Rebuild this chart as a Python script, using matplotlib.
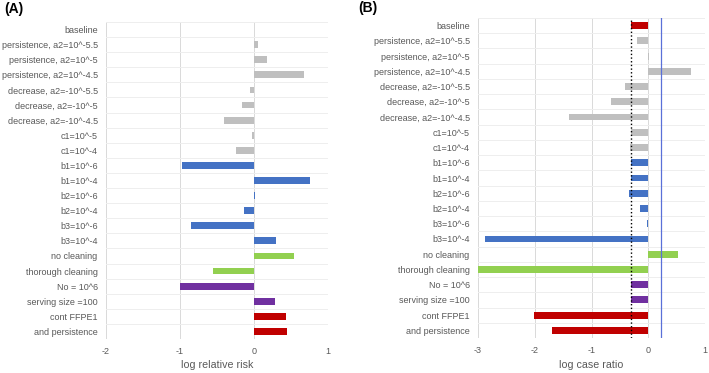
import matplotlib.pyplot as plt
from matplotlib import font_manager

names = {f.name for f in font_manager.fontManager.ttflist}
label_font = 'Liberation Sans Narrow' if 'Liberation Sans Narrow' in names else 'Liberation Sans'
label_size = 7.9 if label_font == 'Liberation Sans Narrow' else 6.5
plt.rcParams['font.family'] = ['Liberation Sans', 'DejaVu Sans']

categories = ['baseline', 'persistence, a2=10^-5.5', 'persistence, a2=10^-5',
              'persistence, a2=10^-4.5', 'decrease, a2=-10^-5.5', 'decrease, a2=-10^-5',
              'decrease, a2=-10^-4.5', 'c1=10^-5', 'c1=10^-4', 'b1=10^-6', 'b1=10^-4',
              'b2=10^-6', 'b2=10^-4', 'b3=10^-6', 'b3=10^-4', 'no cleaning',
              'thorough cleaning', 'No = 10^6', 'serving size =100', 'cont FFPE1',
              'and persistence']

# groups -> colour of each bar
groups = ['base'] + ['env'] * 8 + ['bact'] * 6 + ['clean'] * 2 + ['dose'] * 2 + ['cont'] * 2
group_colors = {'base': '#c00000', 'env': '#bfbfbf', 'bact': '#4472c4',
                'clean': '#92d050', 'dose': '#7030a0', 'cont': '#c00000'}

log_relative_risk = [0.0, 0.05, 0.18, 0.68, -0.06, -0.16, -0.40, -0.03, -0.24,
                     -0.97, 0.76, 0.02, -0.14, -0.85, 0.30, 0.545, -0.56, -1.0,
                     0.29, 0.43, 0.445]

log_case_ratio = [-0.306, -0.19, 0.02, 0.75, -0.41, -0.66, -1.40, -0.306, -0.32,
                  -0.306, -0.306, -0.34, -0.15, -0.03, -2.88, 0.53, -3.0, -0.306,
                  -0.306, -2.02, -1.70]

baseline_case_ratio = -0.306
reference_line = 0.22

text_color = '#595959'
grid_color = '#d9d9d9'

fig = plt.figure(figsize=(7.09, 3.73), dpi=100)
W, H = 709, 373
axA = fig.add_axes([106 / W, 1 - 339 / H, 222 / W, 317 / H])
axB = fig.add_axes([478 / W, 1 - 338 / H, 227 / W, 320 / H])

colors = [group_colors[g] for g in groups]
n = len(categories)
ypos = list(range(n))


def style(ax, xlim, ticks, xlabel):
    ax.set_xlim(*xlim)
    ax.set_ylim(n - 0.5, -0.5)
    ax.set_xticks(ticks)
    ax.set_xticklabels([str(t) for t in ticks], color=text_color, fontsize=label_size,
                       family=label_font)
    ax.set_yticks(ypos)
    ax.set_yticklabels(categories, color=text_color, fontsize=label_size, family=label_font)
    ax.set_yticks([i + 0.5 for i in range(-1, n)], minor=True)
    ax.tick_params(axis='both', which='both', length=0)
    ax.tick_params(axis='x', pad=6)
    ax.tick_params(axis='y', pad=6)
    ax.grid(axis='x', which='major', color=grid_color, linewidth=0.7)
    ax.grid(axis='y', which='minor', color='#eeeeee', linewidth=0.7)
    ax.set_axisbelow(True)
    for s in ax.spines.values():
        s.set_visible(False)
    ax.set_xlabel(xlabel, color=text_color, fontsize=label_size + 1.2, family=label_font,
                  labelpad=3)


axA.barh(ypos, log_relative_risk, height=0.45, color=colors)
style(axA, (-2, 1), [-2, -1, 0, 1], 'log relative risk')

axB.barh(ypos, log_case_ratio, height=0.45, color=colors)
style(axB, (-3, 1), [-3, -2, -1, 0, 1], 'log case ratio')
axB.axvline(baseline_case_ratio, color='black', linestyle=':', linewidth=1)
axB.axvline(reference_line, color='#5a70d8', linewidth=0.9)

fig.text(4 / W, 1 - 2 / H, '(A)', fontsize=10, fontweight='bold', va='top', ha='left')
fig.text(358 / W, 1 - 1 / H, '(B)', fontsize=10, fontweight='bold', va='top', ha='left')

fig.savefig('out.png', dpi=100)
